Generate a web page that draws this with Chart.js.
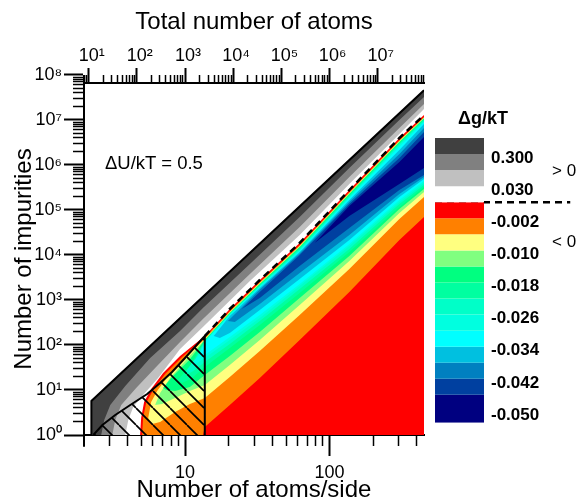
<!DOCTYPE html>
<html>
<head>
<meta charset="utf-8">
<script src="https://cdn.jsdelivr.net/npm/chart.js@4/dist/chart.umd.min.js"></script>
<style>
  body { margin: 0; background: #fff; }
  #wrap { position: relative; width: 581px; height: 498px; }
  #wrap canvas { position: absolute; }
  #note { position: absolute; left: 105px; top: 152px; font: 18.5px Arial, "Liberation Sans", sans-serif; color: #000; }
</style>
</head>
<body>
<div id="wrap">
  <canvas id="main" width="581" height="498" style="left:0;top:0"></canvas>
  <canvas id="key" width="151" height="350" style="left:430px;top:90px"></canvas>
  <div id="note">ΔU/kT = 0.5</div>
</div>
<script>
// ─── Data: contours as [atoms/side, impurities] ──────────────────────────────

const topEdge = [[2.25, 1], [2.25, 5.7], [450, 4.56e7]];
const lvl0300 = [[2.63, 1], [2.76, 2.15], [3.04, 4.64], [3.86, 12.3], [5.74, 51.4], [9.24, 205], [13.3, 664], [28.1, 6310], [62.1, 6.99e4], [137, 8.58e5], [304, 1e7], [450, 3.24e7]];
const lvl0100 = [[3.14, 1], [3.29, 2.15], [3.62, 4.64], [4.59, 11.1], [6.21, 30.8], [9.24, 117], [13.3, 378], [28.1, 3780], [62.1, 4.19e4], [137, 5.41e5], [304, 6.64e6], [450, 2.27e7]];
const lvl0030 = [[3.86, 1], [4.05, 2.15], [4.38, 4.19], [5.13, 7.74], [6.51, 18.5], [9.24, 81.5], [13.3, 251], [28.1, 2640], [62.1, 2.78e4], [137, 3.78e5], [304, 4.89e6], [450, 1.75e7]];
const lvlZero = [[4.89, 1], [4.97, 2.39], [5.21, 5.41], [5.83, 10.5], [7.05, 23.9], [9.24, 57], [13.7, 158], [20.4, 631], [32.9, 2780], [62.1, 1.85e4], [137, 2.78e5], [304, 3.98e6], [450, 1.29e7]];

// negative levels: closed outlines (upper edge, then lower edge back)
const lvlN002 = [[5.05, 1], [5.13, 2.39], [5.38, 5.14], [6.02, 10], [7.28, 22.7], [9.54, 54.1], [13.7, 147], [20.4, 570], [32.9, 2510], [62.1, 1.67e4], [137, 2.51e5], [304, 3.59e6], [450, 1.17e7],
  [450, 6.99e4], [304, 2.15e4], [137, 1510], [62.1, 129], [32.9, 18.5], [20.4, 4.64], [13.7, 1.51], [13.3, 1]];
const lvlN006 = [[5.56, 2.39], [5.83, 5.41], [6.41, 9.5], [7.63, 20.5], [10, 51.4], [13.7, 136], [20.4, 541], [32.9, 2390], [62.1, 1.58e4], [137, 2.39e5], [304, 3.42e6], [450, 1.14e7],
  [450, 1.95e5], [304, 6.31e4], [137, 4890], [62.1, 464], [32.9, 73.6], [20.4, 19.4], [13.7, 6.64], [10.8, 4.89], [8.53, 3.25], [6.72, 1.94], [5.92, 1.76]];
const lvlN010 = [[6.21, 4.64], [6.72, 8.58], [7.88, 18.5], [10.3, 48.9], [13.7, 133], [20.4, 528], [32.9, 2330], [62.1, 1.55e4], [137, 2.33e5], [304, 3.33e6], [450, 1.11e7],
  [450, 2.51e5], [304, 8.58e4], [137, 7360], [62.1, 774], [32.9, 129], [20.4, 35.9], [13.7, 12.9], [10.8, 9.5], [8.53, 6.64], [6.94, 4.89]];
const lvlN014 = [[7.05, 11.1], [8.13, 19.4], [10.7, 46.4], [13.7, 129], [20.4, 514], [32.9, 2270], [62.1, 1.51e4], [137, 2.27e5], [304, 3.25e6], [450, 1.08e7],
  [450, 2.93e5], [304, 1.05e5], [137, 9500], [62.1, 1110], [32.9, 194], [20.4, 57], [13.7, 21.5], [10.8, 11.7], [8.53, 9.5], [7.40, 10]];
const lvlN018 = [[8.95, 16.7], [10.8, 34.1], [13.7, 126], [20.4, 501], [32.9, 2150], [62.1, 1.43e4], [137, 2.15e5], [304, 3.08e6], [450, 1.05e7],
  [450, 3.25e5], [304, 1.17e5], [137, 1.17e4], [62.1, 1430], [32.9, 278], [20.4, 85.8], [13.7, 32.5], [11.2, 18.5], [9.54, 14.3]];
const lvlN022 = [[10, 25.1], [11.7, 46.4], [13.7, 123], [20.4, 489], [32.9, 2100], [62.1, 1.36e4], [137, 2.05e5], [304, 2.93e6], [450, 1.0e7],
  [450, 3.59e5], [304, 1.36e5], [137, 1.36e4], [62.1, 1760], [32.9, 341], [20.4, 105], [13.7, 41.9], [11.4, 26.4], [10.5, 22.7]];
const lvlN026 = [[11.0, 37.8], [12.3, 57], [13.7, 120], [20.4, 476], [32.9, 2050], [62.1, 1.29e4], [137, 1.95e5], [304, 2.78e6], [450, 9.5e6],
  [450, 3.98e5], [304, 1.51e5], [137, 1.58e4], [62.1, 2050], [32.9, 398], [20.4, 129], [13.7, 51.4], [11.9, 37.8], [11.4, 35.9]];
const lvlN030 = [[12.7, 63.1], [13.7, 117], [20.4, 464], [32.9, 1950], [62.1, 1.23e4], [137, 1.85e5], [304, 2.51e6], [450, 9.03e6],
  [450, 4.41e5], [304, 1.67e5], [137, 1.76e4], [62.1, 2270], [32.9, 464], [20.4, 151], [13.7, 59.9], [13.1, 57]];
const lvlN034 = [[15.8, 158], [20.4, 441], [32.9, 1850], [62.1, 1.17e4], [137, 1.67e5], [304, 2.15e6], [450, 8.15e6],
  [450, 4.89e5], [304, 1.95e5], [137, 2.15e4], [62.1, 2930], [32.9, 599], [20.4, 185], [17.4, 143]];
const lvlN038 = [[19.8, 341], [32.9, 1710], [62.1, 1.08e4], [137, 1.51e5], [304, 1.76e6], [450, 6.64e6],
  [450, 5.41e5], [304, 2.27e5], [137, 2.78e4], [62.1, 3980], [32.9, 815], [22.1, 324]];
const lvlN042 = [[24.7, 631], [32.9, 1510], [62.1, 1.0e4], [137, 1.36e5], [304, 1.43e6], [450, 5.41e6],
  [450, 6.0e5], [304, 2.78e5], [137, 3.98e4], [62.1, 5700], [32.9, 1110]];
const lvlN046 = [[78.8, 1.85e4], [137, 1.23e5], [304, 1.17e6], [450, 4.19e6],
  [450, 8.58e5], [304, 3.78e5], [137, 7.36e4]];

const hatchZone = [[2.32, 1], [2.68, 1.67], [3.29, 2.78], [4.18, 4.64], [5.47, 8.15], [6.72, 14.3], [8.13, 25.1], [10, 51.4], [11.7, 90.3], [13.3, 143], [13.7, 158], [13.7, 1]];
const zeroDashed = lvlZero.slice(6);

// key: one colour per band, top (> 0.3) to bottom (< -0.050)
const keyColors = ['#404040', '#808080', '#c0c0c0', '#ffffff', '#ff0000', '#ff8000', '#ffff80', '#80ff80', '#00ff80', '#00ffa0', '#00ffc8', '#00ffe0', '#00ffff', '#00c0e0', '#0080c0', '#0040a0', '#000080', '#000080'];
const keyLabels = ['0.300', '0.030', '-0.002', '-0.010', '-0.018', '-0.026', '-0.034', '-0.042', '-0.050'];
const signLabels = ['> 0', '< 0'];

// axes
const sideMajor = [10, 100];
const sideMinor = [3, 4, 5, 6, 7, 8, 9, 20, 30, 40, 50, 60, 70, 80, 90, 200, 300, 400];
const totalMajor = [1e1, 1e2, 1e3, 1e4, 1e5, 1e6, 1e7];
const impMajor = [1, 1e1, 1e2, 1e3, 1e4, 1e5, 1e6, 1e7, 1e8];
const mantissas = [2, 3, 4, 5, 6, 7, 8, 9];

const xMin = 2, xMax = 450, yMin = 1, yMax = 6.64e7;
const totMin = 8, totMax = xMax ** 3;

// ─── Helpers ──────────────────────────────────────────────────────────────────

const FONT = 'Arial, "Liberation Sans", sans-serif';
Chart.defaults.font.family = FONT;
Chart.defaults.color = '#000';

const SUP = '⁰¹²³⁴⁵⁶⁷⁸⁹';
const pow10 = (v) => '10' + String(Math.round(Math.log10(v))).split('').map((d) => SUP[d]).join('');

function minorTicks(lo, hi) {
  const out = [];
  for (let e = Math.floor(Math.log10(lo)); e <= Math.ceil(Math.log10(hi)); e++) {
    mantissas.forEach((m) => {
      const v = m * 10 ** e;
      if (v >= lo && v <= hi) out.push({ value: v });
    });
  }
  return out;
}

function poly(pts, color, extra) {
  return Object.assign({
    data: pts.map(([x, y]) => ({ x, y })),
    showLine: true,
    pointRadius: 0,
    borderWidth: 0,
    borderColor: 'transparent',
    backgroundColor: color,
    fill: 'shape',
    tension: 0,
  }, extra || {});
}

function hatchPattern() {
  const s = 17;
  const c = document.createElement('canvas');
  c.width = c.height = s;
  const g = c.getContext('2d');
  g.strokeStyle = '#000';
  g.lineWidth = 1.7;
  [-s, 0, s].forEach((k) => {
    g.beginPath();
    g.moveTo(k, 0);
    g.lineTo(k + s, s);
    g.stroke();
  });
  return g.createPattern(c, 'repeat');
}

// ─── Main contour chart ───────────────────────────────────────────────────────

const bands = [topEdge, lvl0300, lvl0100, lvl0030, lvlZero,
  lvlN002, lvlN006, lvlN010, lvlN014, lvlN018, lvlN022, lvlN026, lvlN030, lvlN034, lvlN038, lvlN042, lvlN046];

const datasets = bands.map((pts, i) => {
  const outline = i < 5 ? pts.concat([[xMax, yMin]]) : pts;
  return poly(outline, keyColors[i], { order: -i });
});

const line = (pts, extra) => poly(pts, 'transparent', Object.assign({ fill: false, borderWidth: 2, borderColor: '#000' }, extra));

datasets.push(poly(hatchZone, hatchPattern(), { borderWidth: 2, borderColor: '#000', order: -50 }));
datasets.push(line(zeroDashed, { borderWidth: 2.5, borderDash: [7, 5], order: -51 }));
datasets.push(line(topEdge, { order: -52 }));
// left axis runs on past the plot box, from 10^8 down below 10^0
datasets.push(line([[xMin, 0.55], [xMin, 1e8]], { clip: false, order: -53 }));

const axisTitle = (text, padding) => ({ display: true, text, font: { size: 24, lineHeight: 1 }, padding });
const tickFont = { size: 18 };

new Chart(document.getElementById('main'), {
  type: 'scatter',
  data: { datasets },
  options: {
    responsive: false,
    animation: false,
    events: [],
    devicePixelRatio: 1,
    layout: { padding: { left: 0, right: 157, top: 0, bottom: 0 } },
    plugins: { legend: { display: false }, tooltip: { enabled: false } },
    scales: {
      x: {
        type: 'logarithmic', position: 'bottom', min: xMin, max: xMax,
        afterBuildTicks: (s) => { s.ticks = sideMajor.map((v) => ({ value: v })); },
        afterFit: (s) => { s.height = 63; },
        ticks: { autoSkip: false, maxRotation: 0, padding: 6, font: tickFont, callback: (v) => String(v) },
        grid: { drawOnChartArea: false, tickLength: 21, tickWidth: 2, tickColor: '#000' },
        border: { color: '#000', width: 2 },
        title: axisTitle('Number of atoms/side', { top: 0, bottom: -4.5 }),
      },
      xm: {
        type: 'logarithmic', axis: 'x', position: { y: yMin }, min: xMin, max: xMax,
        afterBuildTicks: (s) => { s.ticks = sideMinor.map((v) => ({ value: v })); },
        ticks: { display: false, autoSkip: false },
        grid: { drawOnChartArea: false, tickLength: 11, tickWidth: 1.5, tickColor: '#000' },
        border: { display: false },
      },
      x2: {
        type: 'logarithmic', axis: 'x', position: 'top', min: totMin, max: totMax,
        afterBuildTicks: (s) => { s.ticks = totalMajor.map((v) => ({ value: v })); },
        afterFit: (s) => { s.height = 83; },
        ticks: { autoSkip: false, maxRotation: 0, padding: 1.5, labelOffset: 3, font: tickFont, callback: (v) => pow10(v) },
        grid: { drawOnChartArea: false, tickLength: 15, tickWidth: 2, tickColor: '#000' },
        border: { color: '#000', width: 2 },
        title: axisTitle('Total number of atoms', { top: 10, bottom: 0 }),
      },
      x2m: {
        type: 'logarithmic', axis: 'x', position: { y: yMax }, min: totMin, max: totMax,
        afterBuildTicks: (s) => { s.ticks = minorTicks(totMin, totMax); },
        ticks: { display: false, autoSkip: false },
        grid: { drawOnChartArea: false, tickLength: -8, tickWidth: 1.5, tickColor: '#000' },
        border: { display: false },
      },
      y: {
        type: 'logarithmic', position: 'left', min: yMin, max: yMax,
        afterBuildTicks: (s) => { s.ticks = impMajor.map((v) => ({ value: v })); },
        afterFit: (s) => { s.width = 84; },
        ticks: { autoSkip: false, padding: 2, font: tickFont, callback: (v) => pow10(v) },
        grid: { drawOnChartArea: false, tickLength: 20, tickWidth: 2, tickColor: '#000' },
        border: { color: '#000', width: 2 },
        title: axisTitle('Number of impurities', { top: 12, bottom: 0 }),
      },
      ym: {
        type: 'logarithmic', axis: 'y', position: { x: xMin }, min: yMin, max: yMax,
        afterBuildTicks: (s) => { s.ticks = minorTicks(yMin, 1e8); },
        ticks: { display: false, autoSkip: false },
        grid: { drawOnChartArea: false, tickLength: 11, tickWidth: 1.5, tickColor: '#000' },
        border: { display: false },
      },
    },
  },
});

// ─── Colour key ───────────────────────────────────────────────────────────────

const keyRows = 17.74;
const keyDatasets = keyColors.map((c, i) => {
  const b = Math.min(i + 1, keyRows);
  return poly([[0, i], [1, i], [1, b], [0, b]], c);
});
keyDatasets.push(line([[0, 4], [2.76, 4]], { borderWidth: 2.5, borderDash: [7, 5], clip: false }));

const plainAxis = { grid: { display: false, drawTicks: false }, border: { display: false } };

new Chart(document.getElementById('key'), {
  type: 'scatter',
  data: { datasets: keyDatasets },
  options: {
    responsive: false,
    animation: false,
    events: [],
    devicePixelRatio: 1,
    layout: { padding: { left: 5, right: 0, top: 0, bottom: 12 } },
    plugins: { legend: { display: false }, tooltip: { enabled: false } },
    scales: {
      x: { type: 'linear', min: 0, max: 1, display: false },
      xt: {
        ...plainAxis, type: 'linear', axis: 'x', position: 'top', min: 0, max: 1,
        afterBuildTicks: (s) => { s.ticks = [{ value: 0.98 }]; },
        afterFit: (s) => { s.height = 48; },
        ticks: { autoSkip: false, maxRotation: 0, padding: 8, font: { size: 18, weight: 'bold' }, callback: () => 'Δg/kT' },
      },
      y: {
        ...plainAxis, type: 'linear', position: 'right', reverse: true, min: 0, max: keyRows,
        afterBuildTicks: (s) => { s.ticks = keyLabels.map((_, i) => ({ value: 1.25 + 2 * i })); },
        afterFit: (s) => { s.width = 61; },
        ticks: { autoSkip: false, padding: 7, font: { size: 17, weight: 'bold' }, callback: (v, i) => keyLabels[i] },
      },
      yg: {
        ...plainAxis, type: 'linear', axis: 'y', position: 'right', reverse: true, min: 0, max: keyRows,
        afterBuildTicks: (s) => { s.ticks = [{ value: 2.1 }, { value: 6.5 }]; },
        afterFit: (s) => { s.width = 36; },
        ticks: { autoSkip: false, padding: 7, font: { size: 17 }, callback: (v, i) => signLabels[i] },
      },
    },
  },
});
</script>
</body>
</html>
